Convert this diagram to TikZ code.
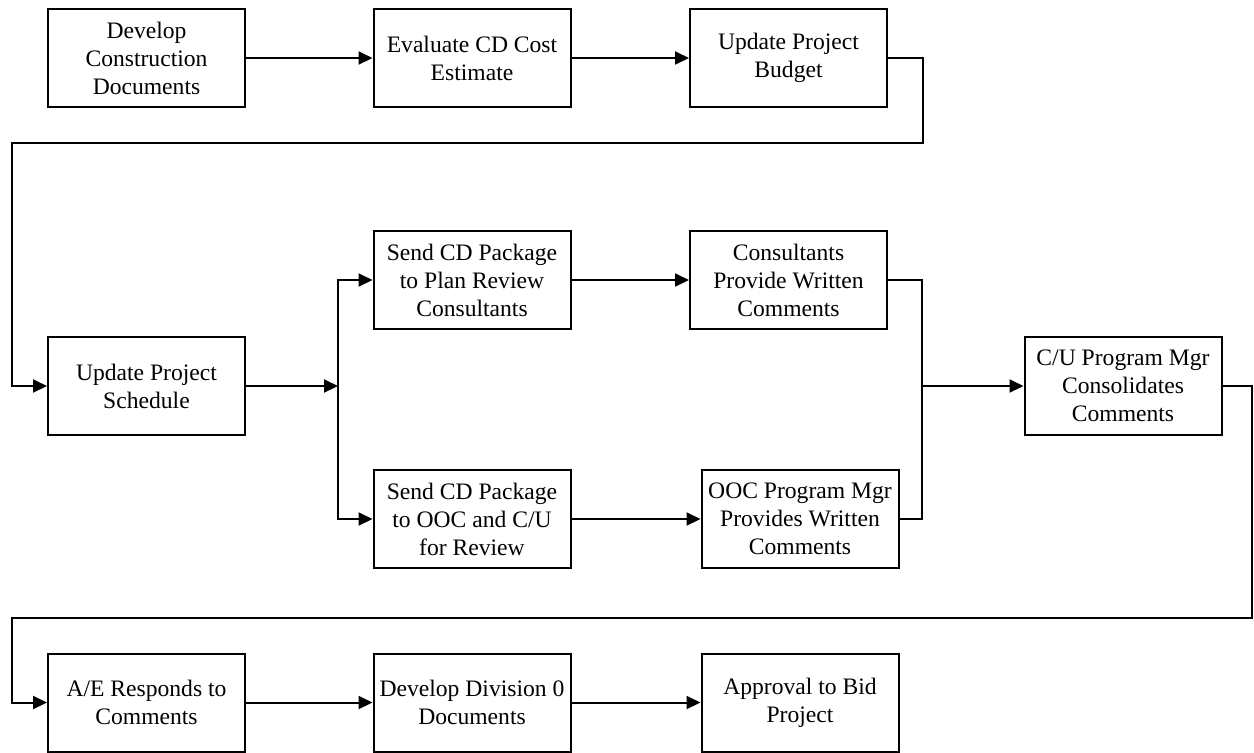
\documentclass[tikz,border=0pt]{standalone}
\usepackage{fontspec}
\setmainfont{Liberation Serif}
\usetikzlibrary{arrows.meta}
\tikzset{
    task/.style={draw, line width=1pt, minimum width=98.5pt, minimum height=49pt,
        inner sep=0pt, align=center, font=\fontsize{11.8}{14}\selectfont},
    flow/.style={line width=1pt, -{Triangle[length=7pt,width=6.5pt]}},
    link/.style={line width=1pt}
}
\begin{document}
\begin{tikzpicture}[x=0.5pt,y=-0.5pt]
\useasboundingbox (0,0) rectangle (1254,752);
\node[task] (dev)  at (146.5,58)  {Develop\\Construction\\Documents};
\node[task] (eval) at (472,58)    {Evaluate CD Cost\\Estimate};
\node[task] (bud)  at (788.5,58)  {Update Project\\Budget};
\node[task] (sch)  at (146.5,386) {Update Project\\Schedule};
\node[task] (plan) at (472,280)   {Send CD Package\\to Plan Review\\Consultants};
\node[task] (cons) at (788.5,280) {Consultants\\Provide Written\\Comments};
\node[task] (ooc)  at (472,519)   {Send CD Package\\to OOC and C/U\\for Review};
\node[task] (oocm) at (800,519)   {OOC Program Mgr\\Provides Written\\Comments};
\node[task] (cu)   at (1123,386)  {C/U Program Mgr\\Consolidates\\Comments};
\node[task] (ae)   at (146.5,702.5) {A/E Responds to\\Comments};
\node[task] (div)  at (472,702.5) {Develop Division 0\\Documents};
\node[task] (bid)  at (800,702.5) {Approval to Bid\\Project};
\coordinate (r1) at (923,143);
\coordinate (l1) at (12,143);
\coordinate (split) at (338,386);
\coordinate (join) at (922,386);
\coordinate (r2) at (1252,618);
\coordinate (l2) at (12,618);
\draw[flow] (dev) -- (eval);
\draw[flow] (eval) -- (bud);
\draw[flow] (bud.east) -| (r1) -- (l1) |- (sch.west);
\draw[flow] (sch.east) -- (split);
\draw[flow] (split) |- (plan.west);
\draw[flow] (split) |- (ooc.west);
\draw[flow] (plan) -- (cons);
\draw[flow] (ooc) -- (oocm);
\draw[link] (cons.east) -| (join);
\draw[link] (oocm.east) -| (join);
\draw[flow] (join) -- (cu.west);
\draw[flow] (cu.east) -| (r2) -- (l2) |- (ae.west);
\draw[flow] (ae) -- (div);
\draw[flow] (div) -- (bid);
\end{tikzpicture}
\end{document}
